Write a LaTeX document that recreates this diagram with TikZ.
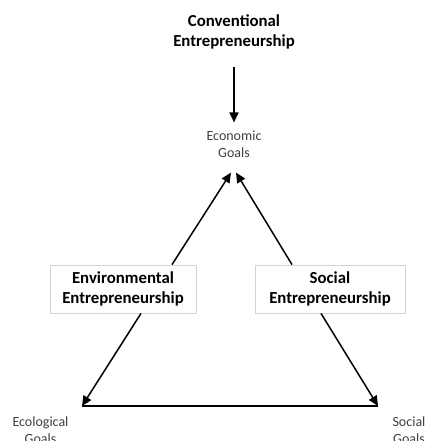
\documentclass[tikz,border=0pt]{standalone}
\usepackage{fontspec}
\setmainfont{Carlito}
\usepackage{xcolor}
\usepackage{tikz}
\usetikzlibrary{arrows.meta,calc}
\definecolor{goalgray}{HTML}{404040}
\definecolor{framegray}{HTML}{D4D4D4}

\begin{document}
\begin{tikzpicture}[x=1pt, y=-1pt]
        % Define styles
        \tikzstyle{entre} = [align=center, inner sep=0pt, font=\fontsize{16.8}{20}\selectfont\bfseries]
        \tikzstyle{framed} = [entre, rectangle, draw=framegray, line width=0.8pt, fill=white, minimum height=48pt]
        \tikzstyle{goal} = [align=center, inner sep=0pt, text=goalgray, font=\fontsize{14}{17}\selectfont]
        \tikzstyle{arrow} = [line width=1.5pt, -{Triangle[length=10pt,width=9pt]}]
        \useasboundingbox (0,0) rectangle (425,441);

        % Nodes
        \node [entre] (conv) at (234,31.5) {Conventional\\Entrepreneurship};
        \node [goal] (econ) at (234,144) {Economic\\Goals};
        \node [framed, minimum width=146pt] (env) at (123,289) {Environmental\\Entrepreneurship};
        \node [framed, minimum width=150pt] (soc) at (330,289) {Social\\Entrepreneurship};
        \node [goal] (eco) at (40.5,430) {Ecological\\Goals};
        \node [goal] (socg) at (409,430) {Social\\Goals};

        % Arrow ends
        \coordinate (econL) at ($(econ.south)+(-3,15)$);
        \coordinate (econR) at ($(econ.south)+(2,15)$);
        \coordinate (ecoTip) at (82,406);
        \coordinate (socTip) at (378,406);

        % Arrows
        \draw [arrow, line width=1.8pt, shorten <=18pt, shorten >=8pt] (conv) -- (econ);
        \draw [arrow] ($(env.north)+(49,0)$) -- (econL);
        \draw [arrow] ($(soc.north)+(-38,0)$) -- (econR);
        \draw [arrow] ($(env.south)+(18,0)$) -- (ecoTip);
        \draw [arrow] ($(soc.south)+(-9,0)$) -- (socTip);
        \draw [line width=1.5pt] (ecoTip) -- (socTip);
    \end{tikzpicture}
\end{document}
